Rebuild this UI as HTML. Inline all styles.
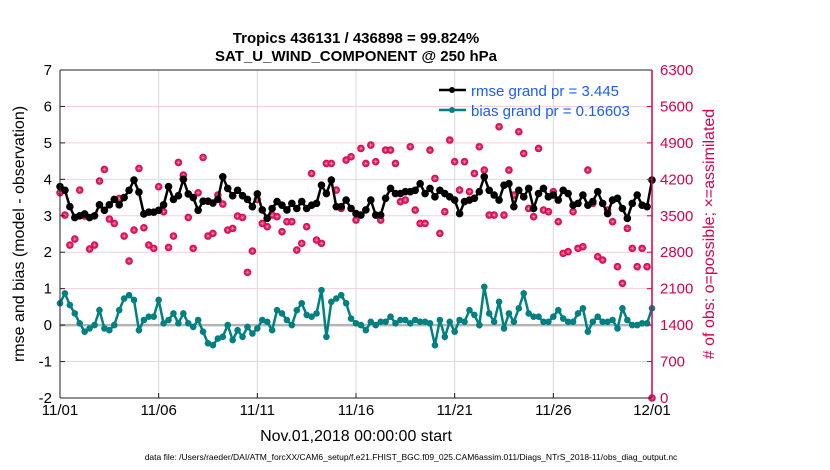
<!DOCTYPE html>
<html><head><meta charset="utf-8"><style>
body{margin:0;background:#fff;}
svg{display:block;font-family:"Liberation Sans",sans-serif;}
</style></head><body>
<svg id="chart" width="830" height="470">
<text x="356" y="43" text-anchor="middle" font-size="15" font-weight="bold">Tropics 436131 / 436898 = 99.824%</text>
<text x="356" y="61" text-anchor="middle" font-size="15" font-weight="bold">SAT_U_WIND_COMPONENT @ 250 hPa</text>
<g id="grid"></g><g id="series"></g><g id="axes"></g>
<text transform="translate(24,234) rotate(-90)" text-anchor="middle" font-size="16">rmse and bias (model - observation)</text>
<text transform="translate(714,234) rotate(-90)" text-anchor="middle" font-size="16" fill="#d6004f"># of obs: o=possible; ×=assimilated</text>
<text x="356" y="441" text-anchor="middle" font-size="16">Nov.01,2018 00:00:00 start</text>
<text x="411" y="460" text-anchor="middle" font-size="8.5">data file: /Users/raeder/DAI/ATM_forcXX/CAM6_setup/f.e21.FHIST_BGC.f09_025.CAM6assim.011/Diags_NTrS_2018-11/obs_diag_output.nc</text>
<g>
<line x1="439" y1="90" x2="466" y2="90" stroke="#000" stroke-width="2.5"/><circle cx="452" cy="90" r="3" fill="#000"/>
<text x="471" y="96" font-size="15" fill="#1a5cff">rmse grand pr = 3.445</text>
<line x1="439" y1="110" x2="466" y2="110" stroke="#008080" stroke-width="2.5"/><circle cx="452" cy="110" r="3" fill="#008080"/>
<text x="471" y="116" font-size="15" fill="#1a5cff">bias grand pr = 0.16603</text>
</g>
</svg>
<script>
const xTickLabels=["11/01","11/06","11/11","11/16","11/21","11/26","12/01"];
const leftTicks=[-2,-1,0,1,2,3,4,5,6,7];
const rightTicks=[0,700,1400,2100,2800,3500,4200,4900,5600,6300];
const rmse=[3.8,3.7,3.25,2.95,3.0,3.05,2.95,3.0,3.3,3.15,3.3,3.45,3.3,3.5,3.7,3.98,3.65,3.05,3.1,3.1,3.15,3.3,3.8,3.45,3.55,4.0,3.6,3.5,3.15,3.4,3.4,3.35,3.45,4.07,3.75,3.55,3.7,3.55,3.45,3.25,3.6,
3.16,2.93,3.2,3.39,3.29,3.16,3.34,3.2,3.39,3.2,3.29,3.34,3.84,3.61,3.98,3.25,3.25,3.43,3.2,3.06,3.02,3.16,3.43,3.02,3.02,3.48,3.75,3.61,3.61,3.66,3.66,3.7,3.88,3.61,3.75,3.52,3.7,3.61,3.52,3.43,3.06,
3.39,3.43,3.48,3.66,4.07,3.7,3.57,3.43,3.84,3.88,3.25,3.7,3.52,3.75,3.2,3.61,3.75,3.52,3.57,3.43,3.7,3.61,3.29,3.34,3.57,3.29,3.39,3.66,3.34,3.06,3.43,3.48,3.2,2.93,3.34,3.57,3.29,3.25,3.98];
const bias=[0.6,0.87,0.55,0.32,0.05,-0.18,-0.09,0.0,0.41,-0.09,-0.14,0.0,0.41,0.73,0.82,0.69,-0.14,0.14,0.23,0.23,0.69,0.05,0.14,0.32,0.05,0.32,0.05,-0.05,0.14,-0.18,-0.5,-0.55,-0.37,-0.32,0.0,-0.41,-0.14,-0.32,-0.05,-0.23,-0.09,
0.14,0.09,-0.14,0.41,0.32,0.14,0.0,0.41,0.6,0.28,0.23,0.32,0.96,-0.32,0.64,0.73,0.82,0.6,0.18,0.05,0.0,-0.14,0.09,0.0,0.09,0.09,0.23,0.05,0.14,0.14,0.05,0.14,0.09,0.09,0.05,-0.55,0.14,-0.32,0.09,-0.18,0.14,
0.09,0.41,0.28,0.0,1.05,0.32,0.09,0.64,-0.09,0.32,0.09,0.46,0.87,0.32,0.23,0.23,0.09,0.09,0.23,0.41,0.18,0.09,0.09,0.32,0.46,-0.18,0.09,0.23,0.09,0.09,0.14,-0.09,0.46,0.14,0.0,0.0,0.05,0.05,0.46];
const obsCount=[3942,3514,2938,3053,3994,3494,2861,2938,4166,4390,3437,3354,3834,3110,2630,3226,4410,3270,2938,2874,4058,3578,2893,3110,4525,4282,3469,2874,3942,4621,3110,3162,3898,3725,3226,3258,3494,3469,2413,2822,3814,
3354,3290,3514,3482,3194,3386,3386,2842,2970,3290,4314,3034,2970,4506,4506,3994,3642,4570,4634,3418,4794,4506,4858,4538,3418,4762,4762,4506,3770,3802,4826,3610,3354,3354,4762,4218,3162,3578,4954,4538,3994,
4538,3962,4314,4826,4378,3514,3514,5210,3514,4378,3898,5114,4698,3642,3482,4794,3610,3578,3962,3386,2778,2810,3578,2874,2906,4378,3738,2714,2650,3610,3386,2522,2202,3258,2874,2522,2874,2522,0];
const NS="http://www.w3.org/2000/svg";
const X0=60,X1=652,Y0=398,Y1=70;
const xs=i=>X0+(X1-X0)*i/(rmse.length-1);
const xd=d=>X0+(X1-X0)*d/30;
const yl=v=>Y0-(v+2)/9*(Y0-Y1);
const yr=v=>Y0-v/6300*(Y0-Y1);
function mk(tag,attrs,parent){const e=document.createElementNS(NS,tag);for(const k in attrs)e.setAttribute(k,attrs[k]);parent.appendChild(e);return e;}
const grid=document.getElementById('grid'),ser=document.getElementById('series'),ax=document.getElementById('axes');
xTickLabels.forEach((t,i)=>{const x=xd(i*5);
 const g=mk('line',{x1:x,x2:x,y1:Y1,y2:Y0,stroke:'#d8d8d8','stroke-width':1},grid);
 
 
 mk('line',{x1:x,x2:x,y1:Y0,y2:Y0-5,stroke:'#222'},ax);
 const tx=mk('text',{x:x,y:Y0+17,'text-anchor':'middle','font-size':15},ax);tx.textContent=t;
 
 });
leftTicks.forEach(v=>{const y=yl(v);
 if(v>-2&&v<7){const g=mk('line',{x1:X0,x2:X1,y1:y,y2:y,stroke:'#f3cfdc','stroke-width':1},grid);
 
 }
 mk('line',{x1:X0,x2:X0+5,y1:y,y2:y,stroke:'#222'},ax);
 const tx=mk('text',{x:X0-8,y:y+5,'text-anchor':'end','font-size':15},ax);tx.textContent=v;
 
 });
rightTicks.forEach(v=>{const y=yr(v);
 mk('line',{x1:X1,x2:X1-5,y1:y,y2:y,stroke:'#d6004f'},ax);
 const tx=mk('text',{x:X1+8,y:y+5,'font-size':15,fill:'#d6004f'},ax);tx.textContent=v;
 
 });
const zl=mk('line',{x1:X0,x2:X1,y1:yl(0),y2:yl(0),stroke:'#b4b4b4','stroke-width':2.5},grid);


mk('line',{x1:X0,x2:X0,y1:Y1,y2:Y0,stroke:'#222'},ax);
mk('line',{x1:X0,x2:X1,y1:Y0,y2:Y0,stroke:'#222'},ax);
mk('line',{x1:X0,x2:X1,y1:Y1,y2:Y1,stroke:'#222'},ax);
mk('line',{x1:X1,x2:X1,y1:Y1,y2:Y0,stroke:'#d6004f','stroke-width':1.5},ax);
obsCount.forEach((c,i)=>{const x=xs(i),y=yr(c);
 const g=mk('g',{},ser);
 
 
 mk('circle',{cx:x,cy:y,r:3.8,fill:'#d8105a'},g);
 mk('path',{d:`M${x-2.2} ${y}H${x+2.2}M${x} ${y-2.2}V${y+2.2}M${x-1.5} ${y-1.5}L${x+1.5} ${y+1.5}M${x-1.5} ${y+1.5}L${x+1.5} ${y-1.5}`,stroke:'#f7b0c8','stroke-width':0.4},g);});
function line(data,color,name,r){
 const pl=mk('polyline',{points:data.map((v,i)=>xs(i)+','+yl(v)).join(' '),fill:'none',stroke:color,'stroke-width':2.5},ser);
 
 
 data.forEach((v,i)=>{const c=mk('circle',{cx:xs(i),cy:yl(v),r:r,fill:color},ser);
 
 });}
line(bias,'#008080','bias',3.3);
line(rmse,'#000','rmse',3.8);
</script>
</body></html>
